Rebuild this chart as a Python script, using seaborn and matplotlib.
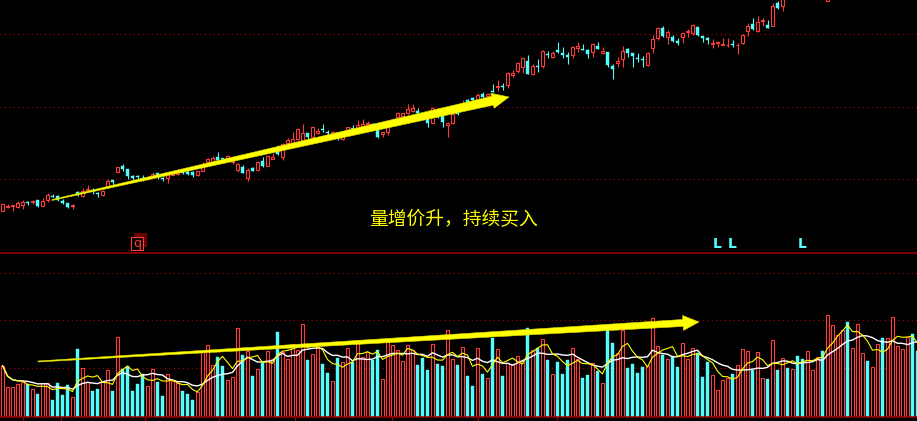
import numpy as np
import pandas as pd
import matplotlib
matplotlib.use("Agg")
import matplotlib.pyplot as plt
import seaborn as sns
from matplotlib.patches import Polygon, Rectangle
from matplotlib.transforms import IdentityTransform

nan = np.nan

# ---------------- data (price units of the chart, one entry per trading day) ----------------
up = [
    1, 1, 1, 1, 1, 0, 1, 0, 1, 1,
    0, 0, 0, 0, 1, 0, 1, 1, 0, 0,
    1, 1, 0, 1, 0, 0, 0, 0, 0, 1,
    1, 0, 0, 1, 1, 1, 0, 0, 0, 1,
    1, 1, 1, 0, 0, 1, 1, 1, 0, 1,
    0, 1, 0, 1, 1, 0, 1, 1, 1, 1,
    1, 0, 1, 1, 0, 0, 1, 0, 1, 1,
    0, 1, 1, 1, 0, 0, 1, 1, 1, 1,
    1, 1, 1, 0, 0, 0, 1, 0, 0, 1,
    1, 0, 1, 0, 0, 1, 0, 1, 0, 1,
    0, 1, 1, 1, 1, 0, 1, 0, 1, 0,
    1, 0, 0, 0, 1, 1, 0, 0, 1, 0,
    1, 0, 0, 1, 1, 0, 0, 0, 0, 1,
    1, 1, 0, 1, 0, 0, 1, 1, 1, 0,
    0, 0, 1, 1, 1, 1, 0, 1, 1, 1,
    0, 1, 1, 0, 1, 0, 1, 0, 1, 0,
    0, 1, 1, 1, 0, 1, 1, 1, 1, 0,
    1, 1, 1, 0, 1, 1, 0, 1, 1, 1,
    1, 1, 0, 0,
]

open_ = [
    42.3, 46.5, 47, 46, 48, 50.7, 50.7, 53, 47.3, 53.3,
    57.3, 57, 52.3, 49.7, 47.5, 61.5, 57.3, 63.3, 62.7, 60.3,
    58, 65.7, 73, 81.3, 87, 84, 77.3, 76.7, 75.2, 74,
    76.5, 79.7, 75.3, 74.7, 78.5, 79.5, 82, 81.3, 81, 78,
    82, 90.7, 91.3, 96.3, 94.7, 95, 91, 83, 85.7, 74.7,
    84.7, 83, 92.3, 87.3, 93.7, 102.3, 96.3, 110, 109.7, 114,
    112, 120.3, 116.3, 119.7, 124.3, 121.3, 119, 120, 113.7, 123,
    125.5, 125.3, 127, 129, 129, 123, 119, 121.3, 131, 135.7,
    137, 139.7, 142, 142, 138, 135.3, 130.3, 141, 138, 128,
    129.7, 140.5, 147, 153, 155, 153, 159, 157, 161.7, 166.5,
    167.3, 168, 178, 182.3, 185.7, 192.3, 178.7, 187, 187.3, 199,
    196.3, 203, 199.7, 198, 198, 204.7, 204.3, 203, 200.7, 207,
    199.7, 201.3, 187, 190.5, 193.7, 203.7, 200.3, 195, 194, 188,
    204.7, 214.7, 224.7, 216.3, 215.7, 212, 216.3, 220.7, 220.3, 225.7,
    217, 214.7, 209.3, 210, 208.3, 207.7, 209, 207.7, 209.7, 222.3,
    229, 222, 232, 228, 227.3, 249.7, 247.3, nan, nan, nan,
    nan, nan, nan, nan, nan, 252.5, nan, nan, nan, nan,
    nan, nan, nan, nan, nan, nan, nan, nan, nan, nan,
    nan, nan, nan, nan,
]

close = [
    48.7, 47.5, 48.2, 49.7, 51.3, 50, 51.7, 47.3, 52.3, 58,
    56.3, 53, 50, 46, 48.3, 58, 62.3, 64, 61.8, 58.7,
    62.3, 72.3, 70.7, 85.7, 83.7, 77.3, 74.7, 75.8, 74.3, 75.5,
    79, 76.3, 74, 79.7, 81.5, 82, 80, 78.7, 77.7, 82,
    86.3, 93.7, 95.3, 93, 93.8, 97, 92.5, 88.7, 80.3, 83,
    82.3, 91.3, 87.3, 97, 96.3, 98.7, 109, 113, 113.7, 124,
    120.3, 116.3, 126.3, 122.3, 123, 119.7, 121, 118.5, 118, 125.7,
    124.5, 127.5, 129, 130.3, 127.5, 115.7, 121.3, 126.3, 133.5, 139.7,
    139.7, 143.7, 145.3, 140.3, 136, 130.3, 144.7, 136, 131.3, 129.7,
    138.7, 139.5, 150, 151, 153, 158, 155.7, 159.5, 161, 167.3,
    166.5, 179.7, 180.3, 189.7, 195.3, 178.7, 187, 185.7, 202.3, 198,
    199.7, 200.7, 198, 196.3, 206.3, 207, 203.5, 199, 208.7, 203.7,
    202.3, 188, 184, 192, 202.3, 200.3, 197.3, 194.3, 193.3, 200.3,
    213.7, 224.7, 217.3, 221.3, 212.3, 209.7, 219.7, 222, 228, 218,
    215.3, 213, 210, 210.7, 209, 208.3, 208.3, 208.3, 218, 227,
    224.3, 230.7, 232.7, 225.3, 247, 245.3, 256, nan, nan, nan,
    nan, nan, nan, nan, nan, 262, nan, nan, nan, nan,
    nan, nan, nan, nan, nan, nan, nan, nan, nan, nan,
    nan, nan, nan, nan,
]

high = [
    48.7, 49, 48.5, 52, 53, 52, 53, 53, 54.7, 59.7,
    59, 58, 53.7, 49.7, 49, 62.5, 64.7, 68, 64.7, 61.3,
    63, 74, 73, 85.7, 88.7, 84, 78, 78, 78, 77,
    81.3, 80, 76.3, 81.3, 82.3, 84, 83, 83.7, 82.3, 82,
    91.3, 94.7, 97.3, 101.3, 95.3, 98, 93, 89.7, 88, 84.7,
    86.3, 92.3, 95.7, 98, 100.3, 108, 109.7, 115, 121.3, 125,
    129, 120.3, 127, 124.7, 129, 123, 122, 121.3, 118.5, 125.7,
    128, 133, 133.7, 132, 130, 123.5, 121.3, 128, 135, 140.7,
    140.3, 149, 149, 144.7, 139.5, 135.3, 145, 145, 139.7, 131.3,
    138.7, 141.3, 153, 154, 156, 159.7, 161.3, 160.5, 169, 173,
    170.3, 181.3, 183, 191.3, 195.3, 198, 188.7, 193.7, 203, 202.3,
    202.3, 210.7, 205.7, 200.7, 207, 211.3, 209, 204, 209.7, 211.3,
    205.7, 201.3, 189, 195.7, 207, 205.3, 200.3, 199.7, 197, 201.3,
    218, 226.3, 227, 223, 218, 214.7, 219.7, 223.7, 229, 225.7,
    217, 216.3, 213.7, 212.3, 214.7, 214.7, 213, 209.7, 219, 229.7,
    234.7, 237, 234.7, 233, 249.7, 252, 259, nan, nan, nan,
    nan, nan, nan, nan, nan, 265, nan, nan, nan, nan,
    nan, nan, nan, nan, nan, nan, nan, nan, nan, nan,
    nan, nan, nan, nan,
]

low = [
    42.3, 44.7, 42.3, 44.7, 44, 48, 49, 46, 47.3, 51.3,
    56.3, 52, 48.7, 45, 44, 57.5, 56.3, 63.3, 59, 56.3,
    57.3, 65.3, 68, 81.3, 82.3, 74, 72.3, 74, 72, 73,
    76, 73.7, 72.3, 70.3, 78, 78, 79, 78, 76.3, 77.5,
    82, 89.7, 89.7, 93, 93, 94, 89, 81.3, 79.7, 72.3,
    82.3, 82, 85.7, 87.3, 93.7, 98, 93, 109, 109.7, 113.5,
    112, 114, 115.7, 118.7, 121.3, 118, 118, 113, 113.5, 122.3,
    123.7, 125.3, 126.3, 128, 126.5, 115.5, 116.3, 118, 130.5, 134.7,
    135.7, 139, 140.7, 136.3, 134.7, 126.3, 129.7, 135, 126.3, 116.3,
    128.7, 138, 146.5, 150, 152, 151.3, 154.7, 156.5, 160.7, 162.3,
    163, 164.7, 175.7, 180.3, 179.7, 178.7, 178, 181.3, 184.7, 194.7,
    194.7, 199.7, 194.7, 188.7, 194.7, 201.3, 203, 194.7, 196.3, 203.7,
    199, 185.7, 174, 186.3, 186.3, 196.3, 186.3, 191.3, 186.3, 187.3,
    200.3, 213, 216.3, 209, 210.7, 208, 210.3, 215.7, 218, 217.3,
    211.3, 209, 205.3, 206.3, 208, 206.3, 206.3, 199, 208.7, 217,
    223.3, 220.7, 227, 225.3, 227.3, 244, 242.3, nan, nan, nan,
    nan, nan, nan, nan, nan, 252.5, nan, nan, nan, nan,
    nan, nan, nan, nan, nan, nan, nan, nan, nan, nan,
    nan, nan, nan, nan,
]

volume = [
    51, 30, 29.3, 32.7, 35, 32.7, 27.7, 22.7, 33.3, 33.3,
    17, 33.7, 22, 31.7, 20, 68, 48.7, 34.3, 26, 27.7,
    34.3, 46.7, 26, 80, 47.7, 51, 26, 32.7, 42.7, 31,
    47.7, 35, 21, 42.7, 36, 33.3, 26, 22.7, 17, 24.3,
    66, 72, 51.7, 60, 51, 36.7, 40, 88.7, 62, 66,
    41, 47.7, 53.3, 66, 57.7, 85, 64.3, 57.7, 72.7, 66.7,
    92.7, 56.7, 62.7, 69.3, 52.7, 43.7, 36, 58.7, 55, 68.7,
    54.3, 76.7, 60, 64.3, 56.7, 66.7, 37.7, 74.3, 71.7, 66.7,
    56, 71.7, 66.7, 51.7, 58.3, 47, 72.7, 52.7, 51, 86.7,
    57.7, 52, 69.3, 41, 31, 68.7, 42.7, 38.7, 78.7, 67.7,
    41, 53.3, 51.7, 60.7, 56, 88.7, 66.7, 68.7, 77.7, 56.7,
    42.7, 55, 42.7, 56.7, 68.7, 57.7, 39, 42, 53.3, 45.3,
    33.7, 92, 74, 63.7, 87, 49, 53, 44, 50, 51,
    98.7, 70.7, 62, 57.7, 60.3, 50, 73.7, 57.7, 68.7, 63.3,
    40, 55, 41.7, 26.7, 36.7, 38.7, 42.7, 51.7, 67.7, 66,
    46.7, 65, 39, 37.7, 76.7, 46.7, 58.7, 49, 47.7, 60.7,
    57.7, 66, 47, 60, 66, 102, 92, 81.7, 86.7, 95,
    68.7, 92.7, 64, 56, 50, 72.7, 78.7, 78.7, 100, 71,
    67.7, 80, 83, 66,
]

price_grid = [74, 146, 219]
vol_grid = [48.5, 96.5, 143.5]
month_ticks = [4.1, 11.7, 28.5, 43.3, 58.5, 77.9, 95.1, 110.9]
l_marks = [143, 146, 160]
q_mark = 27
note_text = "量增价升，持续买入"

# ---------------- style ----------------
sns.set_theme(style="dark")
plt.rcParams["font.family"] = ["Noto Sans CJK SC", "DejaVu Sans"]
plt.rcParams["axes.unicode_minus"] = False

UP_C = "#ff3c3c"
DN_C = "#54fcfc"
GRID_C = "#b00000"
FRAME_C = "#a00000"
YEL = "#ffff00"

W, H = 917, 421
fig = plt.figure(figsize=(W / 100, H / 100), dpi=100, facecolor="black")
ax_p = fig.add_axes([0, (H - 252.5) / H, 1, 252.5 / H])
ax_v = fig.add_axes([0, (H - 416.5) / H, 1, 164 / H], sharex=ax_p)

n = len(volume)
idx = np.arange(n)
up_arr = np.array(up, dtype=bool)
o = np.array(open_, dtype=float)
c = np.array(close, dtype=float)
hi = np.array(high, dtype=float)
lo = np.array(low, dtype=float)
vol = np.array(volume, dtype=float)

colors = np.where(up_arr, UP_C, DN_C)
faces = np.where(up_arr, "black", DN_C)
lws = np.where(up_arr, 0.8, 0.3)

for ax in (ax_p, ax_v):
    ax.set_facecolor("black")
    ax.grid(False)
    for s in ax.spines.values():
        s.set_visible(False)

# dotted grid lines
for g in price_grid:
    ax_p.axhline(g, color=GRID_C, lw=0.8, ls=(0, (1, 3)), zorder=1)
for g in vol_grid:
    ax_v.axhline(g, color=GRID_C, lw=0.8, ls=(0, (1, 3)), zorder=1)

# candlesticks
ax_p.vlines(idx, lo, hi, colors=colors, lw=0.8, zorder=2)
body_lo = np.minimum(o, c)
body_h = np.maximum(np.abs(c - o), 0.6)
ax_p.bar(idx, body_h, bottom=body_lo, width=0.6, color=faces,
         edgecolor=colors, linewidth=lws, zorder=3)

# volume bars + moving averages
ax_v.bar(idx, vol, width=0.6, color=faces, edgecolor=colors,
         linewidth=lws, zorder=2)
vs = pd.Series(vol)
ma5 = vs.rolling(5, min_periods=1).mean()
ma10 = vs.rolling(10, min_periods=1).mean()
sns.lineplot(x=idx, y=ma10.values, ax=ax_v, color="white", lw=1.0, zorder=3, legend=False)
sns.lineplot(x=idx, y=ma5.values, ax=ax_v, color=YEL, lw=0.8, zorder=4, legend=False)

ax_p.set_xlim(-0.5, (W - 2.5) / 5)
ax_p.set_ylim(0.5, 253)
ax_v.set_ylim(0, 164)

ax_p.set_yticks([])
ax_v.set_yticks([])
ax_p.set_ylabel("")
ax_v.set_ylabel("")
ax_v.set_xlabel("")
ax_v.set_xticks(month_ticks)
ax_p.tick_params(axis="x", bottom=False, labelbottom=False)
ax_v.tick_params(axis="x", bottom=True, direction="out", length=3.5, width=0.8,
                 color=FRAME_C, labelbottom=False)

ax_v.spines["top"].set_visible(True)
ax_v.spines["top"].set_color(FRAME_C)
ax_v.spines["top"].set_linewidth(1.1)
ax_v.spines["bottom"].set_visible(True)
ax_v.spines["bottom"].set_color(FRAME_C)
ax_v.spines["bottom"].set_linewidth(1.1)


def taper_arrow(ax, p0, p1, w0, w1, hw, hl, color):
    T = ax.transData
    a = np.array(T.transform(p0))
    b = np.array(T.transform(p1))
    d = b - a
    u = d / np.hypot(*d)
    nrm = np.array([-u[1], u[0]])
    base = b - u * hl
    pts = [a + nrm * w0 / 2, base + nrm * w1 / 2, base + nrm * hw / 2, b,
           base - nrm * hw / 2, base - nrm * w1 / 2, a - nrm * w0 / 2]
    ax.add_patch(Polygon(pts, closed=True, transform=IdentityTransform(),
                         facecolor=color, edgecolor="#d8d800", lw=0.4,
                         zorder=10, clip_on=False))


taper_arrow(ax_p, (9.9, 53), (101.3, 156), 1.0, 9.0, 15.5, 17, YEL)
taper_arrow(ax_v, (7.1, 55), (139.3, 94.5), 1.0, 7.0, 15.0, 16, YEL)

# annotation text
ax_p.text(90.1, 33, note_text, color=YEL, fontsize=13.5, ha="center",
          va="center", zorder=6)

# "L" markers
for i in l_marks:
    ax_p.text(i, 8.5, "L", color=DN_C, fontsize=10, fontweight="bold",
              ha="center", va="center", family="DejaVu Sans", zorder=6)

# "q" marker
qx, qy = ax_p.transData.transform((q_mark - 0.1, 9.5))
ax_p.add_patch(Rectangle((qx - 3, qy - 3.5), 13, 14, transform=IdentityTransform(),
                         facecolor="#6a0000", edgecolor="none", zorder=5, clip_on=False))
ax_p.add_patch(Rectangle((qx - 6, qy - 6.5), 12, 13, transform=IdentityTransform(),
                         facecolor="black", edgecolor=UP_C, lw=0.8, zorder=6, clip_on=False))
ax_p.text(q_mark - 0.1, 10, "q", color=UP_C, fontsize=9, ha="center", va="center",
          family="DejaVu Sans", zorder=7)

fig.savefig("out.png", dpi=100, facecolor="black")
